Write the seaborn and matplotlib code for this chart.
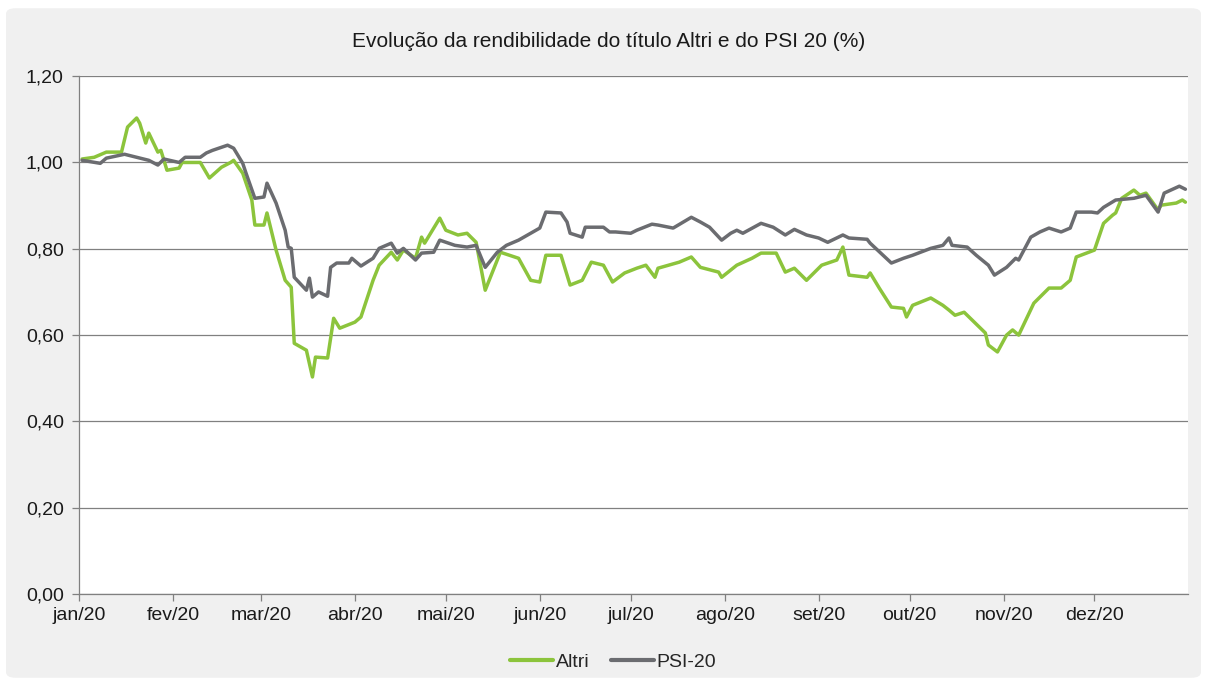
import matplotlib
matplotlib.use("Agg")
import matplotlib.pyplot as plt
import matplotlib.dates as mdates
from matplotlib.patches import FancyBboxPatch
from matplotlib.ticker import FuncFormatter, MultipleLocator
import seaborn as sns
import pandas as pd

sns.set_theme(style="white")
plt.rcParams['font.family'] = ['Liberation Sans', 'DejaVu Sans']

# Altri
altri_dates = [
    "2020-01-02", "2020-01-06", "2020-01-10", "2020-01-15", "2020-01-17", "2020-01-20",
    "2020-01-21", "2020-01-23", "2020-01-24", "2020-01-27", "2020-01-28", "2020-01-30",
    "2020-02-03", "2020-02-04", "2020-02-10", "2020-02-13", "2020-02-17", "2020-02-20",
    "2020-02-21", "2020-02-24", "2020-02-27", "2020-02-28", "2020-03-02", "2020-03-03",
    "2020-03-06", "2020-03-09", "2020-03-11", "2020-03-12", "2020-03-16", "2020-03-18",
    "2020-03-19", "2020-03-23", "2020-03-25", "2020-03-27", "2020-04-01", "2020-04-03",
    "2020-04-07", "2020-04-09", "2020-04-13", "2020-04-15", "2020-04-17", "2020-04-21",
    "2020-04-23", "2020-04-24", "2020-04-29", "2020-05-01", "2020-05-05", "2020-05-08",
    "2020-05-11", "2020-05-14", "2020-05-19", "2020-05-25", "2020-05-29", "2020-06-01",
    "2020-06-03", "2020-06-08", "2020-06-11", "2020-06-15", "2020-06-18", "2020-06-22",
    "2020-06-25", "2020-06-29", "2020-07-03", "2020-07-06", "2020-07-09", "2020-07-10",
    "2020-07-17", "2020-07-21", "2020-07-24", "2020-07-30", "2020-07-31", "2020-08-05",
    "2020-08-10", "2020-08-13", "2020-08-18", "2020-08-21", "2020-08-24", "2020-08-28",
    "2020-09-02", "2020-09-07", "2020-09-09", "2020-09-11", "2020-09-17", "2020-09-18",
    "2020-09-21", "2020-09-25", "2020-09-29", "2020-09-30", "2020-10-02", "2020-10-08",
    "2020-10-12", "2020-10-14", "2020-10-16", "2020-10-19", "2020-10-26", "2020-10-27",
    "2020-10-30", "2020-11-02", "2020-11-04", "2020-11-06", "2020-11-11", "2020-11-16",
    "2020-11-20", "2020-11-23", "2020-11-25", "2020-12-01", "2020-12-04", "2020-12-07",
    "2020-12-08", "2020-12-10", "2020-12-14", "2020-12-16", "2020-12-18", "2020-12-22",
    "2020-12-23", "2020-12-28", "2020-12-30", "2020-12-31",
]
altri_values = [
    1.008, 1.012, 1.024, 1.024, 1.082, 1.103,
    1.091, 1.045, 1.068, 1.024, 1.028, 0.982,
    0.987, 1.000, 1.000, 0.964, 0.989, 1.000,
    1.005, 0.975, 0.913, 0.855, 0.855, 0.883,
    0.797, 0.727, 0.711, 0.581, 0.565, 0.503,
    0.549, 0.547, 0.639, 0.616, 0.630, 0.642,
    0.727, 0.762, 0.792, 0.774, 0.797, 0.778,
    0.827, 0.813, 0.871, 0.843, 0.832, 0.836,
    0.815, 0.704, 0.792, 0.778, 0.727, 0.723,
    0.785, 0.785, 0.716, 0.727, 0.769, 0.762,
    0.723, 0.744, 0.755, 0.762, 0.734, 0.755,
    0.769, 0.781, 0.757, 0.746, 0.734, 0.762,
    0.778, 0.790, 0.790, 0.746, 0.755, 0.727,
    0.762, 0.774, 0.804, 0.739, 0.734, 0.744,
    0.709, 0.665, 0.662, 0.642, 0.669, 0.686,
    0.669, 0.658, 0.646, 0.653, 0.605, 0.577,
    0.561, 0.600, 0.612, 0.600, 0.674, 0.709,
    0.709, 0.727, 0.781, 0.797, 0.859, 0.878,
    0.883, 0.917, 0.936, 0.924, 0.929, 0.890,
    0.901, 0.906, 0.913, 0.908,
]

# PSI-20
psi_dates = [
    "2020-01-02", "2020-01-08", "2020-01-10", "2020-01-16", "2020-01-20", "2020-01-24",
    "2020-01-27", "2020-01-29", "2020-02-03", "2020-02-05", "2020-02-10", "2020-02-12",
    "2020-02-14", "2020-02-19", "2020-02-21", "2020-02-24", "2020-02-25", "2020-02-28",
    "2020-03-02", "2020-03-03", "2020-03-06", "2020-03-09", "2020-03-10", "2020-03-11",
    "2020-03-12", "2020-03-16", "2020-03-17", "2020-03-18", "2020-03-20", "2020-03-23",
    "2020-03-24", "2020-03-26", "2020-03-30", "2020-03-31", "2020-04-03", "2020-04-07",
    "2020-04-09", "2020-04-13", "2020-04-15", "2020-04-17", "2020-04-21", "2020-04-23",
    "2020-04-27", "2020-04-29", "2020-05-04", "2020-05-08", "2020-05-11", "2020-05-14",
    "2020-05-18", "2020-05-21", "2020-05-25", "2020-05-28", "2020-06-01", "2020-06-03",
    "2020-06-08", "2020-06-10", "2020-06-11", "2020-06-15", "2020-06-16", "2020-06-22",
    "2020-06-24", "2020-06-26", "2020-07-01", "2020-07-03", "2020-07-08", "2020-07-10",
    "2020-07-15", "2020-07-21", "2020-07-24", "2020-07-27", "2020-07-31", "2020-08-03",
    "2020-08-05", "2020-08-07", "2020-08-13", "2020-08-17", "2020-08-21", "2020-08-24",
    "2020-08-28", "2020-09-01", "2020-09-04", "2020-09-09", "2020-09-11", "2020-09-17",
    "2020-09-18", "2020-09-25", "2020-09-29", "2020-10-02", "2020-10-08", "2020-10-12",
    "2020-10-14", "2020-10-15", "2020-10-20", "2020-10-23", "2020-10-27", "2020-10-29",
    "2020-11-02", "2020-11-05", "2020-11-06", "2020-11-10", "2020-11-13", "2020-11-16",
    "2020-11-20", "2020-11-23", "2020-11-25", "2020-11-30", "2020-12-02", "2020-12-04",
    "2020-12-08", "2020-12-14", "2020-12-18", "2020-12-22", "2020-12-24", "2020-12-29",
    "2020-12-31",
]
psi_values = [
    1.005, 0.998, 1.010, 1.019, 1.012, 1.005,
    0.994, 1.008, 1.000, 1.012, 1.012, 1.022,
    1.028, 1.040, 1.033, 0.998, 0.977, 0.917,
    0.920, 0.952, 0.906, 0.843, 0.804, 0.801,
    0.734, 0.704, 0.732, 0.688, 0.700, 0.690,
    0.757, 0.767, 0.767, 0.778, 0.760, 0.778,
    0.801, 0.813, 0.790, 0.801, 0.774, 0.790,
    0.792, 0.820, 0.808, 0.804, 0.808, 0.757,
    0.792, 0.808, 0.820, 0.832, 0.848, 0.885,
    0.883, 0.862, 0.836, 0.827, 0.850, 0.850,
    0.839, 0.839, 0.836, 0.843, 0.857, 0.855,
    0.848, 0.873, 0.862, 0.850, 0.820, 0.836,
    0.843, 0.836, 0.859, 0.850, 0.832, 0.845,
    0.832, 0.825, 0.815, 0.832, 0.825, 0.822,
    0.813, 0.767, 0.778, 0.785, 0.801, 0.808,
    0.825, 0.808, 0.804, 0.785, 0.762, 0.739,
    0.757, 0.778, 0.774, 0.827, 0.839, 0.848,
    0.839, 0.848, 0.885, 0.885, 0.883, 0.896,
    0.913, 0.917, 0.924, 0.885, 0.929, 0.945,
    0.938,
]

month_names = ['jan', 'fev', 'mar', 'abr', 'mai', 'jun',
               'jul', 'ago', 'set', 'out', 'nov', 'dez']

df = pd.concat([
    pd.DataFrame({'data': pd.to_datetime(altri_dates), 'valor': altri_values, 'serie': 'Altri'}),
    pd.DataFrame({'data': pd.to_datetime(psi_dates), 'valor': psi_values, 'serie': 'PSI-20'}),
], ignore_index=True)

colors = {'Altri': '#8cc43c', 'PSI-20': '#6b6c70'}

fig = plt.figure(figsize=(12.07, 6.86), dpi=100, facecolor='white')
panel = FancyBboxPatch((0.005, 0.012), 0.99, 0.976, boxstyle='round,pad=0,rounding_size=0.008',
                       transform=fig.transFigure, facecolor='#f0f0f0', edgecolor='none', zorder=-5)
fig.add_artist(panel)

ax = fig.add_axes([0.0655, 0.134, 0.919, 0.755])
ax.set_facecolor('white')

sns.lineplot(data=df, x='data', y='valor', hue='serie', palette=colors,
             estimator=None, linewidth=2.5, ax=ax, legend=False)

# stop just before 1 Jan 2021 so no extra month tick appears at the right edge
ax.set_xlim(pd.Timestamp("2020-01-01"), pd.Timestamp("2020-12-31 23:00"))
ax.set_ylim(0, 1.2)
ax.yaxis.set_major_locator(MultipleLocator(0.2))
ax.yaxis.set_major_formatter(FuncFormatter(lambda v, p: f"{v:.2f}".replace('.', ',')))
ax.xaxis.set_major_locator(mdates.MonthLocator())
ax.xaxis.set_major_formatter(FuncFormatter(
    lambda v, p: f"{month_names[mdates.num2date(v).month - 1]}/20"))

ax.grid(axis='y', color='#808080', linewidth=0.9)
ax.set_axisbelow(True)
for side in ['top', 'right']:
    ax.spines[side].set_visible(False)
for side in ['left', 'bottom']:
    ax.spines[side].set_color('#808080')
    ax.spines[side].set_linewidth(0.9)

ax.tick_params(axis='both', which='major', direction='out', length=5, width=0.9,
               color='#808080', labelsize=14, labelcolor='#1a1a1a')
ax.tick_params(axis='y', pad=6, left=True)
ax.tick_params(axis='x', pad=4, bottom=True)
ax.set_xlabel('')
ax.set_ylabel('')

fig.text(0.504, 0.939, "Evolução da rendibilidade do título Altri e do PSI 20 (%)",
         ha='center', va='center', fontsize=15, color='#1a1a1a')

handles = [plt.Line2D([], [], color=colors[s], linewidth=3) for s in colors]
fig.legend(handles, list(colors), loc='center', bbox_to_anchor=(0.508, 0.035), ncol=2,
           frameon=False, fontsize=14, handlelength=2.2, handletextpad=0.15, columnspacing=1.1)

fig.savefig('out.png', dpi=100, facecolor=fig.get_facecolor())
